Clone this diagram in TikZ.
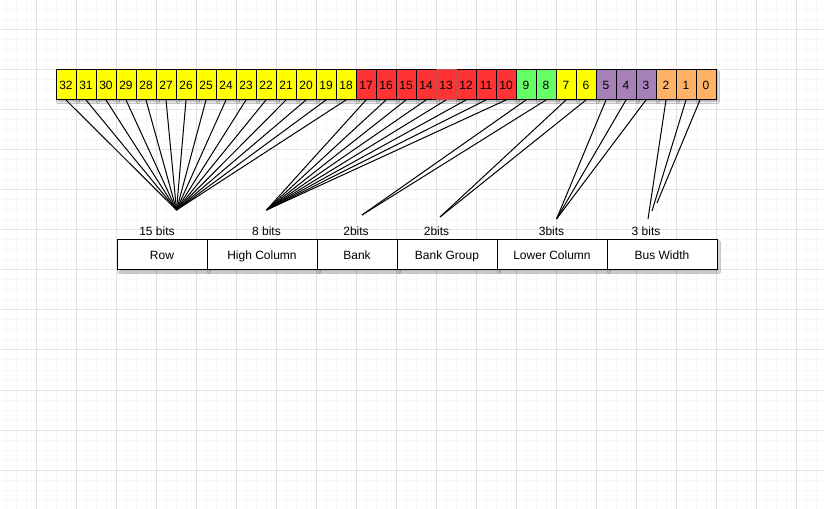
\documentclass[tikz,border=0pt]{standalone}
\usepackage{fontspec}
\setmainfont{Liberation Sans}
\usetikzlibrary{shadows.blur}
\definecolor{gmajor}{HTML}{E2E2E2}
\definecolor{gminor}{HTML}{F7F7F7}
\definecolor{cy}{HTML}{FFFF00}
\definecolor{cr}{HTML}{FF3333}
\definecolor{cg}{HTML}{66FF66}
\definecolor{cp}{HTML}{A680B8}
\definecolor{co}{HTML}{FFB366}
\definecolor{redborder}{HTML}{C05050}
\begin{document}
\begin{tikzpicture}[x=0.75pt,y=-0.75pt,
  shad/.style={blur shadow={shadow xshift=1.5pt, shadow yshift=-1.5pt, shadow opacity=30, shadow blur steps=4, shadow blur radius=1.2pt}},
  txt/.style={font=\fontsize{9}{10}\selectfont, text height=7.4pt, text depth=1pt},
  bitbox/.style={txt, draw=black, line width=0.75pt, minimum width=15pt, minimum height=22.5pt, inner sep=0pt, outer sep=0pt, anchor=north west, shad},
  cell/.style={txt, draw=black, fill=white, line width=0.75pt, minimum height=22.5pt, inner sep=0pt, outer sep=0pt, shad},
  fan/.style={draw=black, line width=0.75pt},
  lbl/.style={txt, inner sep=0pt}]
\useasboundingbox (0,0) rectangle (824,509);
\fill[white] (0,0) rectangle (824,509);
% grid
\foreach \x in {6.5,16.5,...,824} \draw[gminor, line width=0.75pt] (\x,0) -- (\x,509);
\foreach \y in {0,10,...,509} \draw[gminor, line width=0.75pt] (0,\y) -- (824,\y);
\foreach \x in {36.5,76.5,...,824} \draw[gmajor, line width=0.75pt] (\x,0) -- (\x,509);
\foreach \y in {30,70,...,509} \draw[gmajor, line width=0.75pt] (0,\y) -- (824,\y);
% apexes
\coordinate (rowap) at (176.5,210);
\coordinate (hcap) at (266.5,210);
\coordinate (bkap) at (362,215);
\coordinate (bgap) at (440,217);
\coordinate (lcap) at (556.5,219);
\coordinate (bw2) at (648,219);
\coordinate (bw1) at (652,211);
\coordinate (bw0) at (657,203);
% bit boxes
\foreach \b/\c in {32/cy,31/cy,30/cy,29/cy,28/cy,27/cy,26/cy,25/cy,24/cy,23/cy,22/cy,21/cy,20/cy,19/cy,18/cy,
  17/cr,16/cr,15/cr,14/cr,13/cr,12/cr,11/cr,10/cr,9/cg,8/cg,7/cy,6/cy,5/cp,4/cp,3/cp,2/co,1/co,0/co}
  \node[bitbox, fill=\c] (b\b) at ({56+(32-\b)*20},70) {\b};
\draw[redborder, line width=0.75pt] (b13.north west) rectangle (b13.south east);
% fans
\foreach \b in {18,...,32} \draw[fan] (b\b.south) -- (rowap);
\foreach \b in {10,...,17} \draw[fan] (b\b.south) -- (hcap);
\foreach \b in {8,9} \draw[fan] (b\b.south) -- (bkap);
\foreach \b in {6,7} \draw[fan] (b\b.south) -- (bgap);
\foreach \b in {3,4,5} \draw[fan] (b\b.south) -- (lcap);
\draw[fan] (b2.south) -- (bw2);
\draw[fan] (b1.south) -- (bw1);
\draw[fan] ([xshift=-4.5pt]b0.south) -- (bw0);
% bit count labels
\node[lbl] (l1) at (157,231) {15 bits};
\node[lbl] (l2) at (266.5,231) {8 bits};
\node[lbl] (l3) at (356,231) {2bits};
\node[lbl] (l4) at (436.5,231) {2bits};
\node[lbl] (l5) at (551.5,231) {3bits};
\node[lbl] (l6) at (646,231) {3 bits};
% table
\node[cell, minimum width=67.5pt] (row) at (162,255) {Row};
\node[cell, minimum width=82.5pt] (hcol) at (262,255) {High Column};
\node[cell, minimum width=60pt] (bank) at (357,255) {Bank};
\node[cell, minimum width=75pt] (bgrp) at (447,255) {Bank Group};
\node[cell, minimum width=82.5pt] (lcol) at (552,255) {Lower Column};
\node[cell, minimum width=82.5pt] (bus) at (662,255) {Bus Width};
\end{tikzpicture}
\end{document}
